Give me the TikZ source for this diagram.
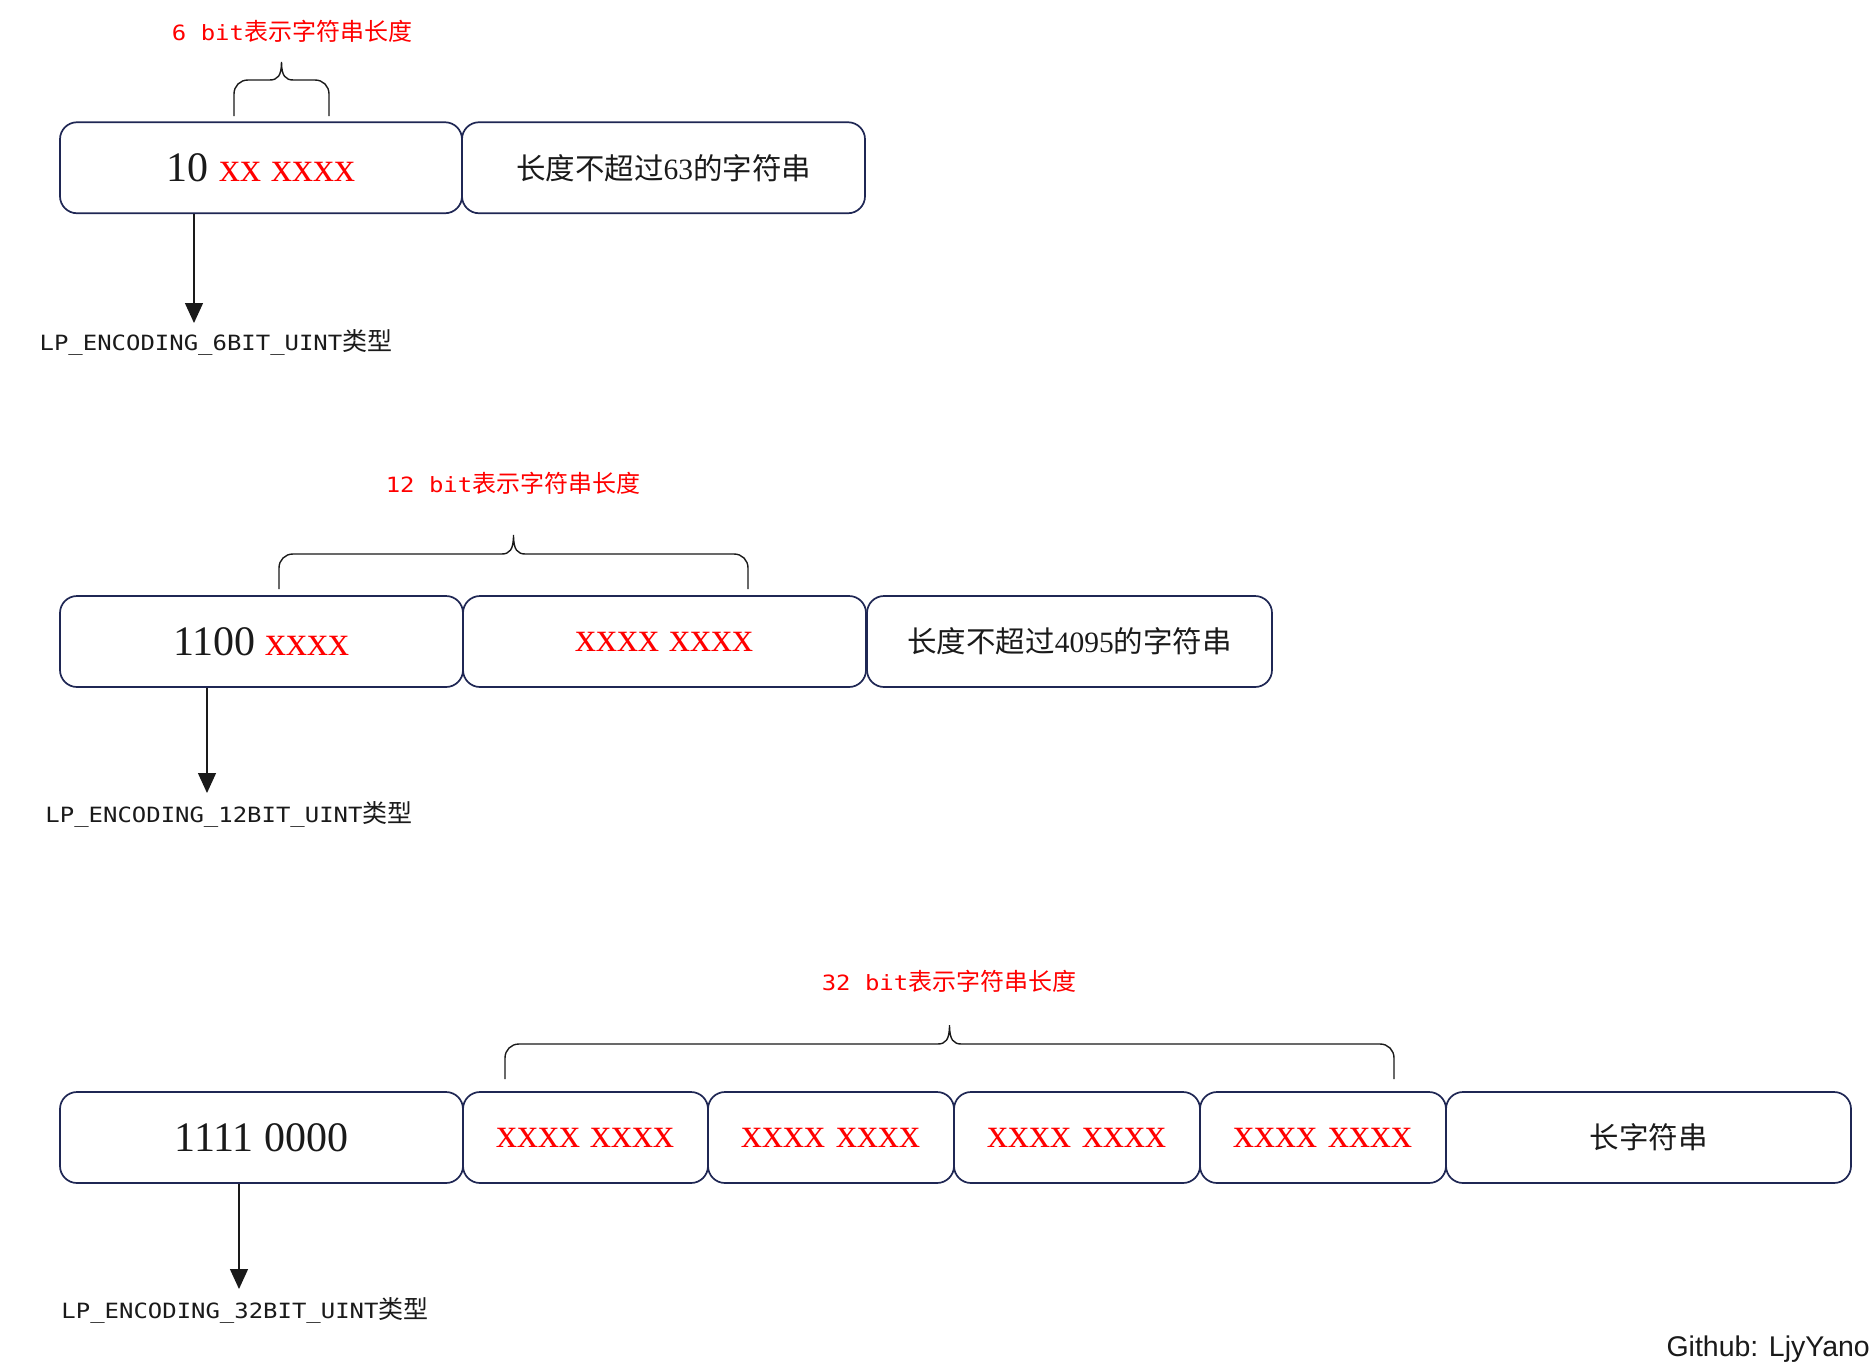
\documentclass[tikz,border=0pt]{standalone}
\usepackage{fontspec}
\setmainfont{Liberation Serif}
\newfontfamily\cjk{Noto Sans CJK SC}
\newfontfamily\monof[FakeStretch=1.14]{DejaVu Sans Mono}
\newfontfamily\sansf{Liberation Sans}
\usetikzlibrary{arrows.meta}
\definecolor{navy}{HTML}{1F2754}
\definecolor{ink}{HTML}{1A1A1A}
\definecolor{pure red}{HTML}{FF0000}
\newcommand\bigtxt{\fontsize{42}{50}\selectfont}
\newcommand\cjktxt{\fontsize{29.5}{35}\selectfont}
\newcommand\rx[1]{\textcolor{pure red}{#1}}
\newcommand\cj[1]{{\cjk #1}}
\newcommand\bitbrace[5]{%
  \pgfmathsetmacro\bm{(#1+#2)/2}%
  \draw[bracket] (#1,#3) -- (#1,#4+14)
    .. controls (#1,#4+6) and (#1+6,#4) .. (#1+14,#4)
    -- (\bm-12,#4)
    .. controls (\bm-4,#4) and (\bm,#4-4) .. (\bm,#5)
    .. controls (\bm,#4-4) and (\bm+4,#4) .. (\bm+12,#4)
    -- (#2-14,#4)
    .. controls (#2-6,#4) and (#2,#4+6) .. (#2,#4+14)
    -- (#2,#3);}
\begin{document}
\begin{tikzpicture}[x=1pt,y=-1pt,
  cell/.style={draw=navy,line width=1.7pt,rounded corners=17pt,inner sep=0pt,
    minimum height=91pt,text=ink},
  bracket/.style={draw=ink,line width=1.4pt},
  typearrow/.style={draw=ink,line width=1.3pt,-{Triangle[length=20pt,width=18pt]}},
  bitlabel/.style={inner sep=0pt,text=pure red,font=\monof\fontsize{21}{25}\selectfont},
  typelabel/.style={inner sep=0pt,text=ink,font=\monof\fontsize{21}{25}\selectfont},
  sig/.style={inner sep=0pt,text=ink,font=\sansf\fontsize{28.5}{34}\selectfont}]
\useasboundingbox[fill=white] (0,0) rectangle (1876,1368);

% ---------- row 1 ----------
\node[cell,minimum width=402pt] (a1) at (261,167.75) {\bigtxt 10 \rx{xx xxxx}};
\node[cell,minimum width=403pt] (a2) at (663.5,167.75) {\cjktxt\cj{长度不超过}63\cj{的字符串}};
\bitbrace{234}{329}{116}{80}{62}
\node[bitlabel] (l1) at (292,31) {6 bit{\cjk\fontsize{24}{25}\selectfont 表示字符串长度}};
\coordinate (e1) at (194,323);
\draw[typearrow] (a1.south -| e1) -- (e1);
\node[typelabel] (t1) at (216,342) {LP\_ENCODING\_6BIT\_UINT{\cjk\fontsize{25}{25}\selectfont 类型}};

% ---------- row 2 ----------
\node[cell,minimum width=403pt] (b1) at (261.5,641.5) {\bigtxt 1100 \rx{xxxx}};
\node[cell,minimum width=403pt] (b2) at (664.5,641.5) {\bigtxt\rx{xxxx xxxx}};
\node[cell,minimum width=405pt] (b3) at (1069.5,641.5) {\cjktxt\cj{长度不超过}4095\cj{的字符串}};
\bitbrace{279}{748}{589}{554}{535}
\node[bitlabel] (l2) at (513,483) {12 bit{\cjk\fontsize{24}{25}\selectfont 表示字符串长度}};
\coordinate (e2) at (207,793);
\draw[typearrow] (b1.south -| e2) -- (e2);
\node[typelabel] (t2) at (229,814) {LP\_ENCODING\_12BIT\_UINT{\cjk\fontsize{25}{25}\selectfont 类型}};

% ---------- row 3 ----------
\node[cell,minimum width=403pt] (c1) at (261.5,1137.5) {\bigtxt 1111 0000};
\node[cell,minimum width=245pt] (c2) at (585.5,1137.5) {\bigtxt\rx{xxxx xxxx}};
\node[cell,minimum width=246pt] (c3) at (831,1137.5) {\bigtxt\rx{xxxx xxxx}};
\node[cell,minimum width=246pt] (c4) at (1077,1137.5) {\bigtxt\rx{xxxx xxxx}};
\node[cell,minimum width=246pt] (c5) at (1323,1137.5) {\bigtxt\rx{xxxx xxxx}};
\node[cell,minimum width=405pt] (c6) at (1648.5,1137.5) {\cjktxt\cj{长字符串}};
\bitbrace{505}{1394}{1079}{1044}{1025}
\node[bitlabel] (l3) at (949,981) {32 bit{\cjk\fontsize{24}{25}\selectfont 表示字符串长度}};
\coordinate (e3) at (239,1289);
\draw[typearrow] (c1.south -| e3) -- (e3);
\node[typelabel] (t3) at (245,1310) {LP\_ENCODING\_32BIT\_UINT{\cjk\fontsize{25}{25}\selectfont 类型}};

\node[sig,anchor=base east] (gh) at (1870,1356) {Github: LjyYano};
\end{tikzpicture}
\end{document}
